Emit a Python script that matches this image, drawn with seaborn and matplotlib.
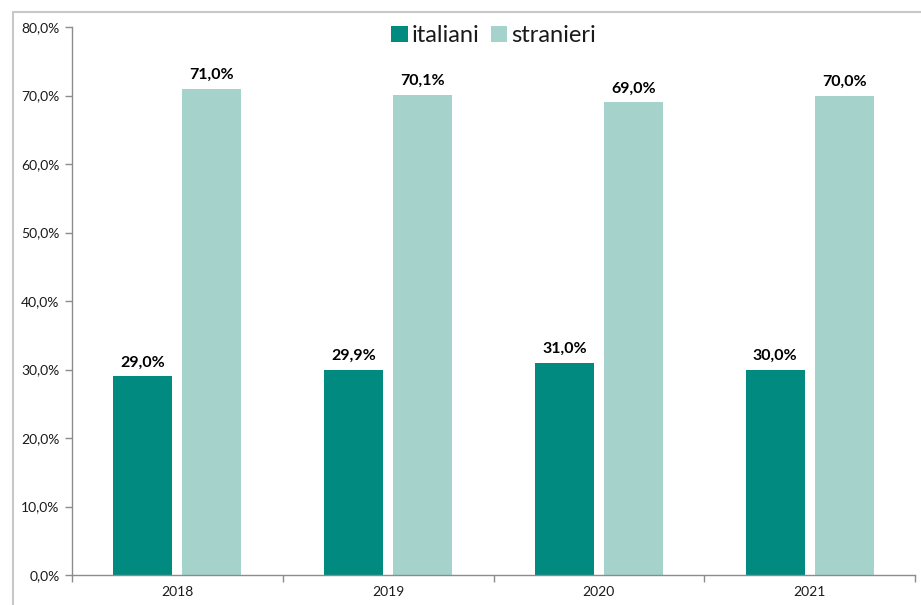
import matplotlib
matplotlib.use("Agg")
import matplotlib.pyplot as plt
from matplotlib.lines import Line2D
from matplotlib.ticker import FixedLocator, FuncFormatter
import seaborn as sns
import pandas as pd

years = ["2018", "2019", "2020", "2021"]
italiani = [29.0, 29.9, 31.0, 30.0]
stranieri = [71.0, 70.1, 69.0, 70.0]
series_names = ["italiani", "stranieri"]
y_ticks = [0, 10, 20, 30, 40, 50, 60, 70, 80]

colors = {"italiani": "#008A80", "stranieri": "#A6D2CC"}

df = pd.DataFrame({
    "anno": years * 2,
    "gruppo": [series_names[0]] * len(years) + [series_names[1]] * len(years),
    "quota": italiani + stranieri,
})

sns.set_theme(style="white")
plt.rcParams["font.family"] = ["Lato", "DejaVu Sans"]

fig = plt.figure(figsize=(9.21, 6.05), dpi=100)
ax = fig.add_axes([72 / 921, 1 - 575 / 605, (915 - 72) / 921, (575 - 27) / 605])

sns.barplot(data=df, x="anno", y="quota", hue="gruppo", palette=colors,
            order=years, hue_order=series_names, width=0.655, gap=0.145,
            saturation=1, linewidth=0, ax=ax, legend=True)

fmt = lambda v: f"{v:.1f}".replace(".", ",") + "%"
for cont in ax.containers:
    ax.bar_label(cont, labels=[fmt(b.get_height()) for b in cont],
                 padding=5, fontsize=11.5, fontweight="bold", color="black")

ax.set_xlim(-0.5, 3.5)
ax.set_ylim(0, 80)
ax.yaxis.set_major_locator(FixedLocator(y_ticks))
ax.yaxis.set_major_formatter(FuncFormatter(lambda v, p: f"{v:.1f}".replace(".", ",") + "%"))
ax.set_xlabel("")
ax.set_ylabel("")

spine_col = "#8C8C8C"
for s in ["top", "right"]:
    ax.spines[s].set_visible(False)
for s in ["left", "bottom"]:
    ax.spines[s].set_color(spine_col)
    ax.spines[s].set_linewidth(1.0)

ax.tick_params(axis="y", which="major", length=5, width=1, color=spine_col,
               labelsize=10, labelcolor="#1a1a1a", left=True, pad=4)
ax.tick_params(axis="x", which="major", length=0, labelsize=10,
               labelcolor="#1a1a1a", pad=8)
ax.xaxis.set_minor_locator(FixedLocator([-0.5, 0.5, 1.5, 2.5, 3.5]))
ax.tick_params(axis="x", which="minor", length=5, width=1, color=spine_col,
               bottom=True)

leg = ax.legend(loc="upper center", bbox_to_anchor=(0.5, 1.025), ncol=2,
                frameon=False, fontsize=17, handlelength=0.7,
                handleheight=0.7, handletextpad=0.15, columnspacing=0.5,
                borderaxespad=0.1)
for t in leg.get_texts():
    t.set_color("#1a1a1a")

# outer chart-area border
border = "#C8C8C8"
fig.add_artist(Line2D([13 / 921, 1], [1 - 12 / 605, 1 - 12 / 605],
                      transform=fig.transFigure, color=border, lw=1.5))
fig.add_artist(Line2D([13 / 921, 13 / 921], [0, 1 - 12 / 605],
                      transform=fig.transFigure, color=border, lw=1.5))

fig.savefig("out.png", dpi=100, facecolor="white")
